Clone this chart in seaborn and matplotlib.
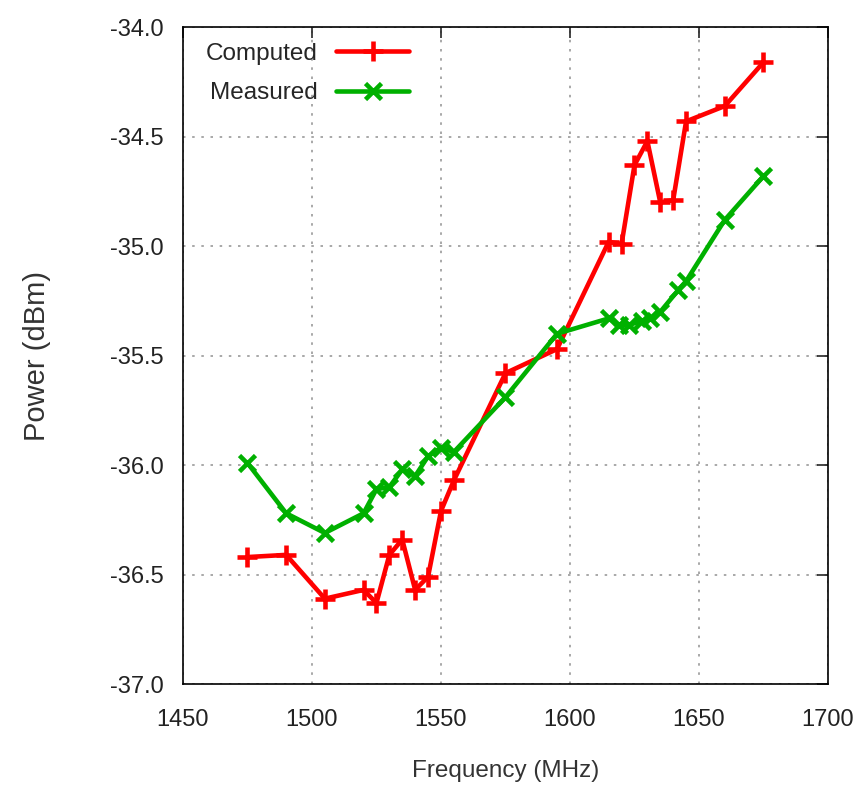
import numpy as np
import pandas as pd
import matplotlib
matplotlib.use("Agg")
import matplotlib.pyplot as plt
import seaborn as sns

# data
freq_comp = [1475, 1490, 1505, 1520, 1525, 1530, 1535, 1540, 1545, 1550, 1555,
             1575, 1595, 1615, 1620, 1625, 1630, 1635, 1640, 1645, 1660, 1675]
pow_comp = [-36.42, -36.41, -36.61, -36.57, -36.63, -36.41, -36.34, -36.57, -36.51,
            -36.21, -36.07, -35.58, -35.47, -34.98, -34.99, -34.63, -34.52, -34.80,
            -34.79, -34.43, -34.36, -34.16]

freq_meas = [1475, 1490, 1505, 1520, 1525, 1530, 1535, 1540, 1545, 1550, 1555,
             1575, 1595, 1615, 1619, 1623, 1628, 1631, 1635, 1642, 1645, 1660, 1675]
pow_meas = [-35.99, -36.22, -36.31, -36.22, -36.11, -36.10, -36.02, -36.05, -35.96,
            -35.92, -35.94, -35.69, -35.40, -35.33, -35.36, -35.36, -35.34, -35.33,
            -35.30, -35.20, -35.16, -34.88, -34.68]

sns.set_style("white")
plt.rcParams['font.family'] = ['Liberation Sans', 'DejaVu Sans']

fig = plt.figure(figsize=(8.67, 8.01), dpi=100)
ax = fig.add_axes([0.211, 0.146, 0.744, 0.820])

red = '#ff0000'
green = '#00b000'
sns.lineplot(x=freq_comp, y=pow_comp, ax=ax, color=red, lw=3.3,
             marker='+', markersize=15, markeredgewidth=3.3,
             markeredgecolor=red, label='Computed')
sns.lineplot(x=freq_meas, y=pow_meas, ax=ax, color=green, lw=3.3,
             marker='x', markersize=11, markeredgewidth=3.3,
             markeredgecolor=green, label='Measured')

ax.set_xlim(1450, 1700)
ax.set_ylim(-37.0, -34.0)
ax.set_xticks(np.arange(1450, 1701, 50))
yt = np.arange(-37.0, -33.99, 0.5)
ax.set_yticks(yt)
ax.set_yticklabels(['%.1f' % v for v in yt])
ax.grid(True, color='#999999', linestyle=(0, (1.5, 4)), lw=1.2)
ax.tick_params(direction='in', top=True, right=True, length=8, width=1.2,
               labelsize=17, labelcolor='#222222')
ax.tick_params(axis='x', pad=18)
ax.tick_params(axis='y', pad=14)
for s in ax.spines.values():
    s.set_color('black')
    s.set_linewidth(1.2)

ax.set_xlabel('Frequency (MHz)', fontsize=17.5, color='#333333')
ax.xaxis.set_label_coords(0.5, -0.116)
ax.set_ylabel('Power (dBm)', fontsize=21, color='#333333')
ax.yaxis.set_label_coords(-0.205, 0.5)

leg = ax.legend(loc='upper left', frameon=False, markerfirst=False,
                fontsize=17.5, handlelength=3.0, handletextpad=0.75,
                borderaxespad=0.15, labelspacing=0.72,
                bbox_to_anchor=(0.015, 0.997))

fig.savefig('out.png', dpi=100)
